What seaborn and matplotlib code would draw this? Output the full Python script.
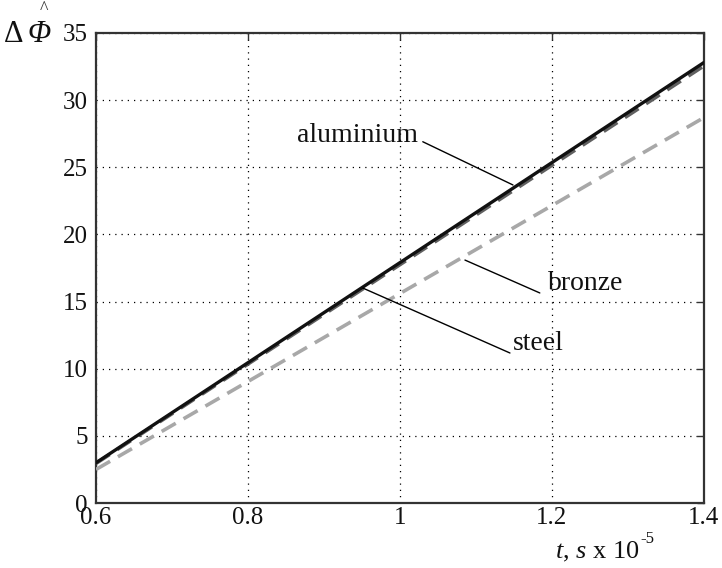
import numpy as np
import pandas as pd
import matplotlib
matplotlib.use("Agg")
import matplotlib.pyplot as plt
import seaborn as sns

# ---- data ----
t_values = [0.6, 1.0, 1.4]
aluminium_vals = [3.0, 17.9, 32.8]
bronze_vals = [2.95, 17.75, 32.55]
steel_vals = [2.5, 15.6, 28.7]
x_ticks = [0.6, 0.8, 1.0, 1.2, 1.4]
x_ticklabels = ["0.6", "0.8", "1", "1.2", "1.4"]
y_ticks = [0, 5, 10, 15, 20, 25, 30, 35]

sns.set_theme(style="white")
plt.rcParams['font.family'] = ['Liberation Serif', 'DejaVu Serif']
plt.rcParams['mathtext.fontset'] = 'custom'
plt.rcParams['mathtext.rm'] = 'Liberation Serif'
plt.rcParams['mathtext.it'] = 'Liberation Serif:italic'

df = pd.DataFrame({
    "t": t_values * 3,
    "val": bronze_vals + steel_vals + aluminium_vals,
    "series": ["bronze"] * 3 + ["steel"] * 3 + ["aluminium"] * 3,
})

fig = plt.figure(figsize=(7.22, 5.68), dpi=100)
ax = fig.add_axes([0.133, 0.1144, 0.842, 0.8276])

styles = {
    "bronze": dict(color="#606060", ls=(0, (4.5, 2.5)), lw=2.6),
    "steel": dict(color="#a8a8a8", ls=(0, (4.5, 2.5)), lw=2.6),
    "aluminium": dict(color="#111111", ls="-", lw=2.4),
}
for name in ["bronze", "steel", "aluminium"]:
    sub = df[df["series"] == name]
    sns.lineplot(data=sub, x="t", y="val", ax=ax, color=styles[name]["color"],
                 linestyle=styles[name]["ls"], linewidth=styles[name]["lw"],
                 legend=False, zorder=3)

ax.set_xlim(0.6, 1.4)
ax.set_ylim(0, 35)
ax.set_xticks(x_ticks)
ax.set_xticklabels(x_ticklabels)
ax.set_yticks(y_ticks)
ax.set_xlabel("")
ax.set_ylabel("")
ax.grid(True, color="black", linestyle=(0, (1, 4)), linewidth=0.9)
ax.tick_params(direction="in", length=5, width=1, color="#333333",
               top=True, right=True, labelsize=18, pad=3, labelcolor="#111111")
ax.tick_params(axis="y", pad=6)
for s in ax.spines.values():
    s.set_color("#333333")
    s.set_linewidth(1.6)

# annotations (leader lines + labels)
ax.plot([1.030, 1.1487], [26.9, 23.68], color="black", lw=1.0, zorder=4)
ax.text(1.024, 27.4, "aluminium", ha="right", va="center", fontsize=20, color="#111111")
ax.plot([1.184, 1.0855], [15.64, 18.09], color="black", lw=1.0, zorder=4)
ax.text(1.195, 16.38, "bronze", ha="left", va="center", fontsize=20, color="#111111")
ax.plot([1.1447, 0.9513], [11.17, 16.0], color="black", lw=1.0, zorder=4)
ax.text(1.149, 11.9, "steel", ha="left", va="center", fontsize=20, color="#111111")

# axis labels
fig.text(597 / 722, 1 - 552 / 568, r"$t$, $s$ x 10", ha="center", va="center",
         fontsize=19, color="#111111")
fig.text(640 / 722, 1 - 539 / 568, "-5", ha="left", va="center",
         fontsize=12, color="#111111")
fig.text(4 / 722, 1 - 35 / 568, "Δ", ha="left", va="center", fontsize=22, color="#111111")
fig.text(28 / 722, 1 - 35 / 568, "Φ", ha="left", va="center", fontsize=22,
         style="italic", color="#111111")
fig.text(44 / 722, 1 - 10 / 568, "^", ha="center", va="center", fontsize=13, color="#333333")

fig.savefig("out.png", dpi=100)
